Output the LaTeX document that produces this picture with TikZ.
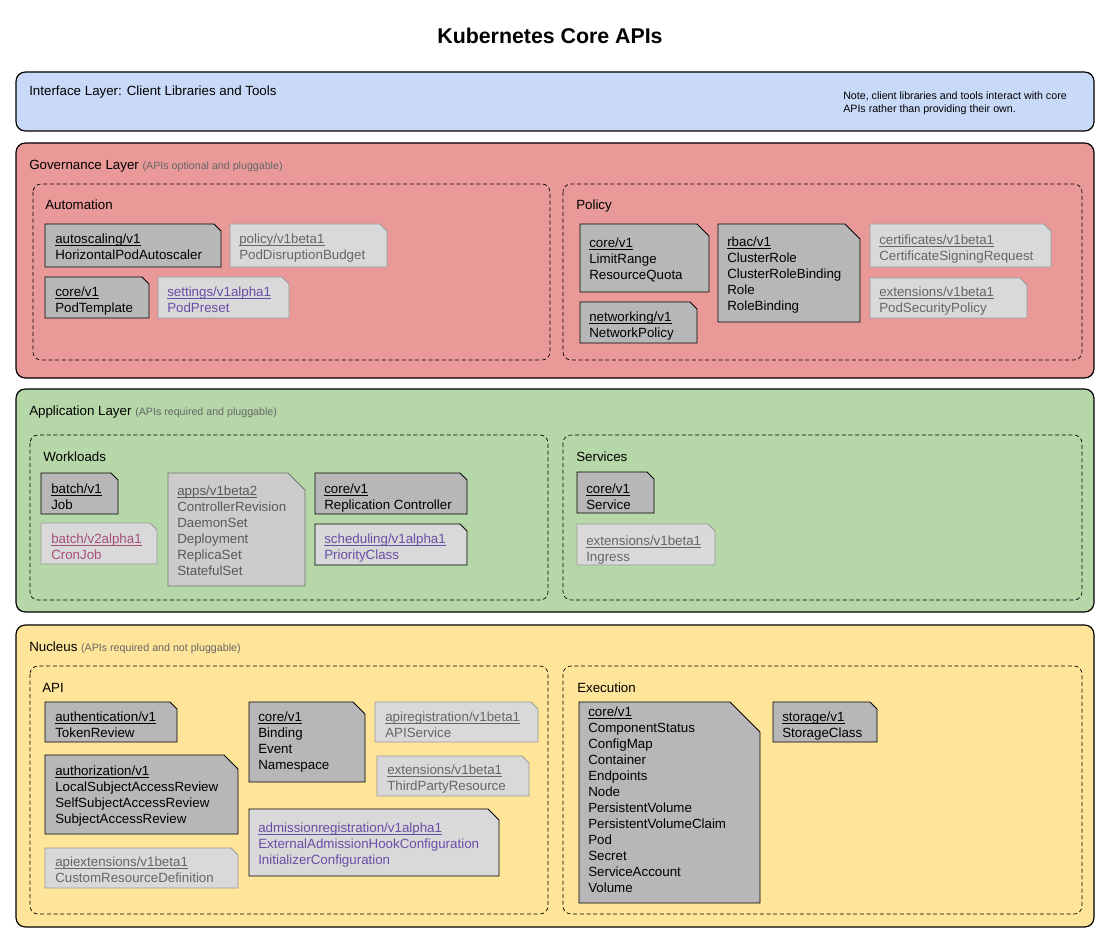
\documentclass[tikz,border=0pt]{standalone}
\usepackage{fontspec}
\setmainfont{Liberation Sans}

\definecolor{ifaceblue}{HTML}{C9DAF8}
\definecolor{govred}{HTML}{EA9999}
\definecolor{appgreen}{HTML}{B6D7A8}
\definecolor{nucyellow}{HTML}{FFE599}
\definecolor{stablegray}{HTML}{B7B7B7}
\definecolor{betagray}{HTML}{D9D9D9}
\definecolor{appsgray}{HTML}{CCCCCC}
\definecolor{edgegray}{HTML}{999999}
\definecolor{textgray}{HTML}{666666}
\definecolor{alphapurple}{HTML}{674EA7}
\definecolor{cronpink}{HTML}{A64D79}

% underlined group/version line
\newcommand\apiver[1]{\leavevmode\setbox0\hbox{#1}\rlap{\rule[-1.6pt]{\wd0}{0.55pt}}\box0}

\begin{document}
\begin{tikzpicture}[x=0.75pt,y=0.75pt,yscale=-1,xscale=1,
  layer/.style={draw=black, line width=0.9pt, rounded corners=7pt},
  group/.style={draw=black, line width=0.5pt, dash pattern=on 3pt off 2pt, rounded corners=6pt},
  stable/.style={draw=black, line width=0.7pt, fill=stablegray},
  beta/.style={draw=edgegray, line width=0.7pt, fill=betagray},
  alpha/.style={draw=black, line width=0.7pt, fill=betagray},
  label/.style={anchor=base west, inner sep=0, font=\fontsize{10}{12}\selectfont},
  apitext/.style={anchor=north west, inner sep=0, align=left, font=\fontsize{10}{12}\selectfont},
  caption/.style={text=textgray, font=\fontsize{8}{10}\selectfont}
]
\useasboundingbox (0,0) rectangle (1108,938);

% Title
\node[anchor=base, inner sep=0, font=\bfseries\fontsize{16}{19}\selectfont] (title) at (550,44) {Kubernetes Core APIs};

%Shape: Interface layer
\draw[layer, fill=ifaceblue] (16,72) rectangle (1094,131);
%Shape: Governance layer
\draw[layer, fill=govred] (16,143) rectangle (1094,378);
%Shape: Application layer
\draw[layer, fill=appgreen] (16,389) rectangle (1094,612);
%Shape: Nucleus
\draw[layer, fill=nucyellow] (16,625) rectangle (1094,927);

%Shape: dashed groups
\draw[group] (33,184) rectangle (550,360);
\draw[group] (563,184) rectangle (1082,360);
\draw[group] (30,435) rectangle (548,600);
\draw[group] (563,435) rectangle (1082,600);
\draw[group] (30,666) rectangle (548,914);
\draw[group] (563,666) rectangle (1082,914);

% Text Node
\node[label] (iface) at (29,96) {Interface Layer: Client Libraries and Tools};
% Text Node
\node[anchor=north west, inner sep=0, align=left, font=\fontsize{8}{9.75}\selectfont] (note) at (843,92) {Note, client libraries and tools interact with core\\APIs rather than providing their own.};
% Text Node
\node[label] (gov) at (29,170) {Governance Layer {\color{textgray}\fontsize{8}{10}\selectfont (APIs optional and pluggable)}};
% Text Node
\node[label] (app) at (29,415) {Application Layer {\color{textgray}\fontsize{8}{10}\selectfont (APIs required and pluggable)}};
% Text Node
\node[label] (nuc) at (29,651) {Nucleus {\color{textgray}\fontsize{8}{10}\selectfont (APIs required and not pluggable)}};
% Text Node
\node[label] (automation) at (45,210) {Automation};
\node[label] (policy) at (576,210) {Policy};
\node[label] (workloads) at (43,461) {Workloads};
\node[label] (services) at (576,461) {Services};
\node[label] (api) at (42,692) {API};
\node[label] (execution) at (577,692) {Execution};

%Shape: Automation boxes
\draw[stable] (45,224) -- (214,224) -- (221,231) -- (221,267) -- (45,267) -- cycle;
\draw[beta] (230,224) -- (380,224) -- (387,231) -- (387,267) -- (230,267) -- cycle;
\draw[stable] (45,277) -- (142,277) -- (149,284) -- (149,318) -- (45,318) -- cycle;
\draw[beta] (158,277) -- (282,277) -- (289,284) -- (289,318) -- (158,318) -- cycle;

%Shape: Policy boxes
\draw[stable] (580,224) -- (697,224) -- (709,236) -- (709,292) -- (580,292) -- cycle;
\draw[stable] (580,302) -- (690,302) -- (697,309) -- (697,343) -- (580,343) -- cycle;
\draw[stable] (718,224) -- (845,224) -- (860,239) -- (860,322) -- (718,322) -- cycle;
\draw[beta] (870,224) -- (1044,224) -- (1051,231) -- (1051,267) -- (870,267) -- cycle;
\draw[beta] (870,278) -- (1020,278) -- (1027,285) -- (1027,318) -- (870,318) -- cycle;

%Shape: Workloads boxes
\draw[stable] (41,473) -- (111,473) -- (118,480) -- (118,514) -- (41,514) -- cycle;
\draw[beta] (41,523) -- (150,523) -- (157,530) -- (157,564) -- (41,564) -- cycle;
\draw[draw=black!55, line width=0.7pt, fill=appsgray] (168,473) -- (288,473) -- (305,490) -- (305,586) -- (168,586) -- cycle;
\draw[stable] (315,473) -- (460,473) -- (467,480) -- (467,514) -- (315,514) -- cycle;
\draw[alpha] (315,524) -- (460,524) -- (467,531) -- (467,565) -- (315,565) -- cycle;

%Shape: Services boxes
\draw[stable] (577,472) -- (647,472) -- (654,479) -- (654,513) -- (577,513) -- cycle;
\draw[beta] (577,524) -- (708,524) -- (715,531) -- (715,565) -- (577,565) -- cycle;

%Shape: API boxes
\draw[stable] (45,702) -- (170,702) -- (177,709) -- (177,742) -- (45,742) -- cycle;
\draw[stable] (45,755) -- (224,755) -- (238,769) -- (238,834) -- (45,834) -- cycle;
\draw[beta] (45,848) -- (231,848) -- (238,855) -- (238,888) -- (45,888) -- cycle;
\draw[stable] (249,702) -- (353,702) -- (365,714) -- (365,782) -- (249,782) -- cycle;
\draw[beta] (375,702) -- (531,702) -- (538,709) -- (538,742) -- (375,742) -- cycle;
\draw[beta] (377,756) -- (522,756) -- (529,763) -- (529,796) -- (377,796) -- cycle;
\draw[alpha] (249,809) -- (488,809) -- (499,820) -- (499,876) -- (249,876) -- cycle;

%Shape: Execution boxes
\draw[stable] (579,702) -- (730,702) -- (760,732) -- (760,903) -- (579,903) -- cycle;
\draw[stable] (773,702) -- (870,702) -- (877,709) -- (877,742) -- (773,742) -- cycle;

% Text Node
\node[apitext] (autoscaling) at (55,234) {\apiver{autoscaling/v1}\\HorizontalPodAutoscaler};
\node[apitext, text=textgray] (pdb) at (239,234) {\apiver{policy/v1beta1}\\PodDisruptionBudget};
\node[apitext] (podtemplate) at (55,287) {\apiver{core/v1}\\PodTemplate};
\node[apitext, text=alphapurple] (podpreset) at (167,287) {\apiver{settings/v1alpha1}\\PodPreset};

% Text Node
\node[apitext] (quota) at (589,238) {\apiver{core/v1}\\LimitRange\\ResourceQuota};
\node[apitext] (netpol) at (589,312) {\apiver{networking/v1}\\NetworkPolicy};
\node[apitext] (rbac) at (727,237) {\apiver{rbac/v1}\\ClusterRole\\ClusterRoleBinding\\Role\\RoleBinding};
\node[apitext, text=textgray] (csr) at (879,235) {\apiver{certificates/v1beta1}\\CertificateSigningRequest};
\node[apitext, text=textgray] (psp) at (879,287) {\apiver{extensions/v1beta1}\\PodSecurityPolicy};

% Text Node
\node[apitext] (job) at (51,484) {\apiver{batch/v1}\\Job};
\node[apitext, text=cronpink] (cronjob) at (51,534) {\apiver{batch/v2alpha1}\\CronJob};
\node[apitext, text=black!65] (apps) at (177,486) {\apiver{apps/v1beta2}\\ControllerRevision\\DaemonSet\\Deployment\\ReplicaSet\\StatefulSet};
\node[apitext] (rc) at (324,484) {\apiver{core/v1}\\Replication Controller};
\node[apitext, text=alphapurple] (priority) at (324,534) {\apiver{scheduling/v1alpha1}\\PriorityClass};

% Text Node
\node[apitext] (service) at (586,484) {\apiver{core/v1}\\Service};
\node[apitext, text=textgray] (ingress) at (586,536) {\apiver{extensions/v1beta1}\\Ingress};

% Text Node
\node[apitext] (authn) at (55,712) {\apiver{authentication/v1}\\TokenReview};
\node[apitext] (authz) at (55,766) {\apiver{authorization/v1}\\LocalSubjectAccessReview\\SelfSubjectAccessReview\\SubjectAccessReview};
\node[apitext, text=textgray] (crd) at (55,857) {\apiver{apiextensions/v1beta1}\\CustomResourceDefinition};
\node[apitext] (coreapi) at (258,712) {\apiver{core/v1}\\Binding\\Event\\Namespace};
\node[apitext, text=textgray] (apisvc) at (385,712) {\apiver{apiregistration/v1beta1}\\APIService};
\node[apitext, text=textgray] (tpr) at (387,765) {\apiver{extensions/v1beta1}\\ThirdPartyResource};
\node[apitext, text=alphapurple] (admission) at (258,823) {\apiver{admissionregistration/v1alpha1}\\ExternalAdmissionHookConfiguration\\InitializerConfiguration};

% Text Node
\node[apitext] (coreexec) at (588,707) {\apiver{core/v1}\\ComponentStatus\\ConfigMap\\Container\\Endpoints\\Node\\PersistentVolume\\PersistentVolumeClaim\\Pod\\Secret\\ServiceAccount\\Volume};
\node[apitext] (storage) at (782,712) {\apiver{storage/v1}\\StorageClass};

\end{tikzpicture}
\end{document}
